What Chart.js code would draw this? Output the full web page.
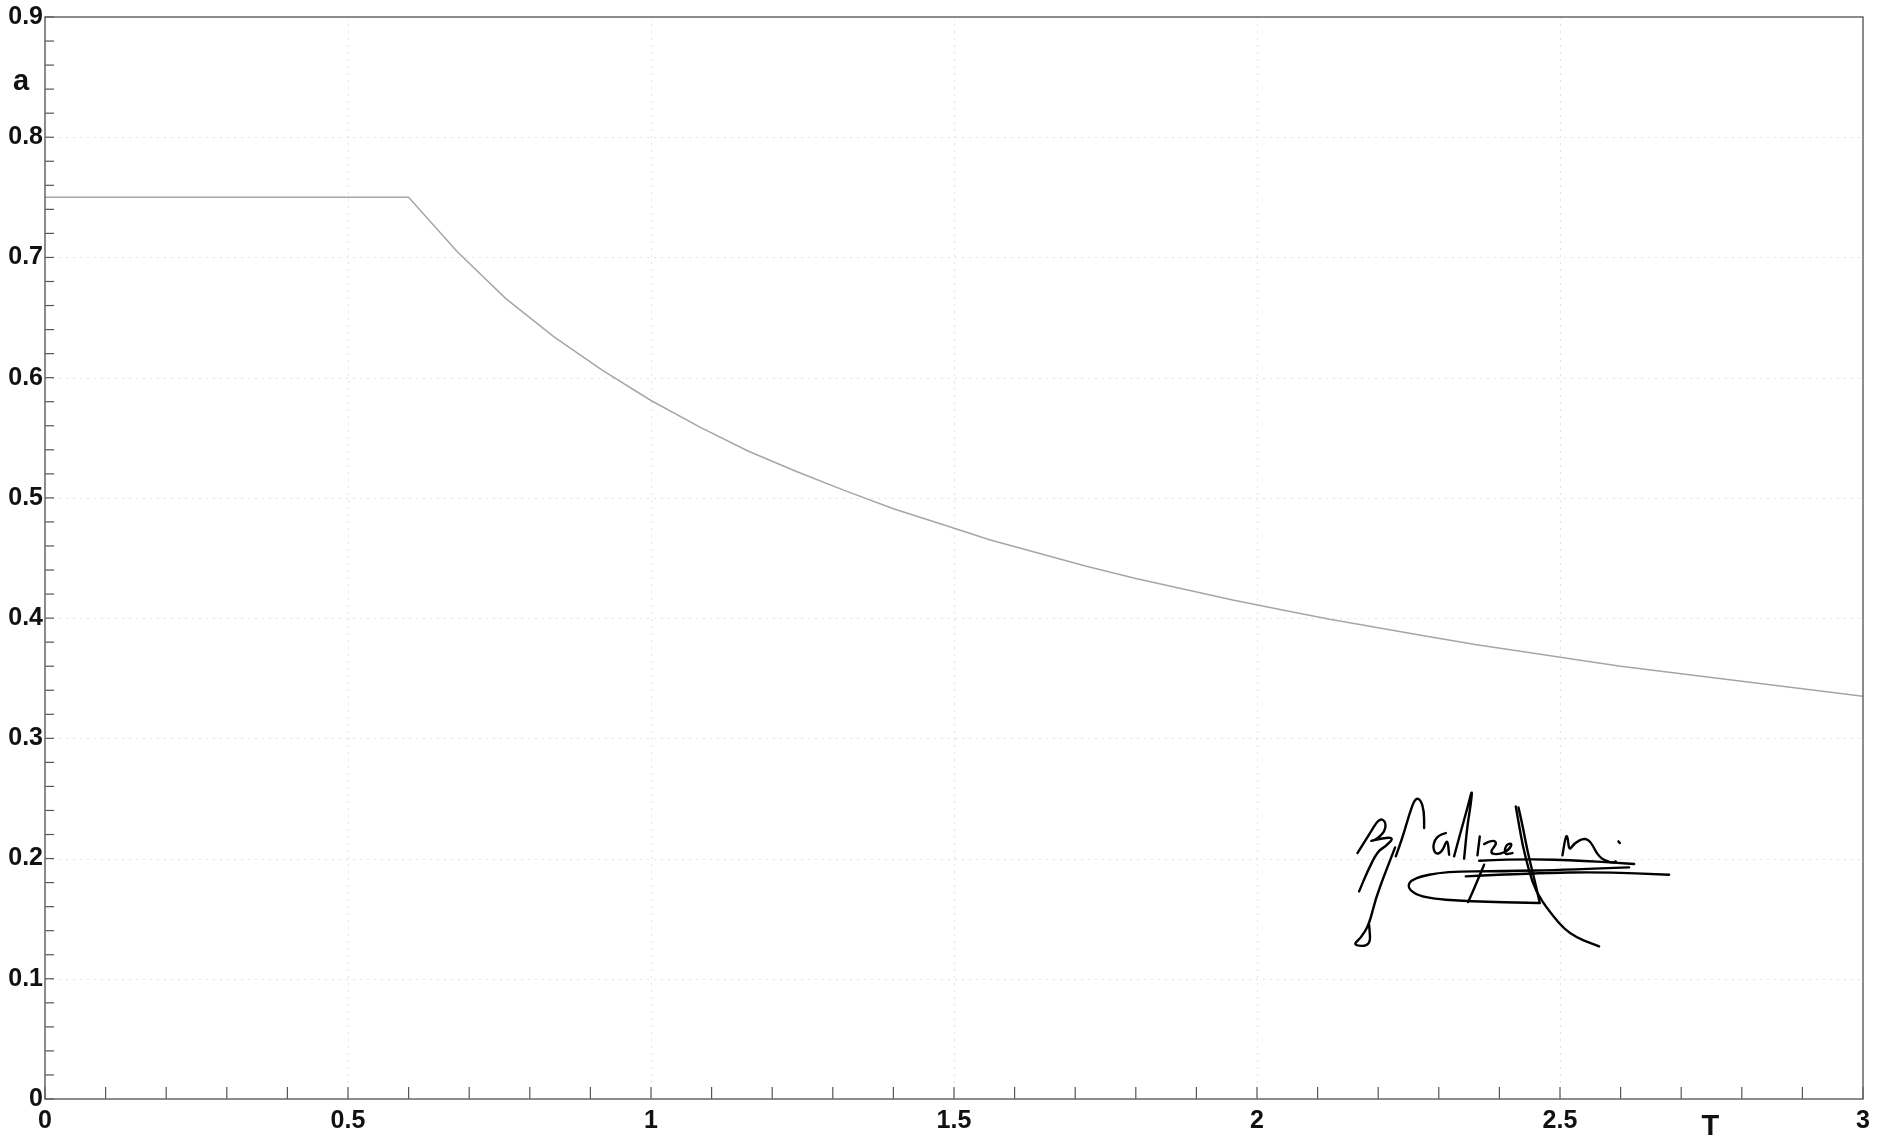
<!DOCTYPE html>
<html>
<head>
<meta charset="utf-8">
<script src="https://cdn.jsdelivr.net/npm/chart.js@4.4.1/dist/chart.umd.min.js"></script>
<style>
  html, body { margin: 0; padding: 0; background: #fff; }
  #wrap { width: 1883px; height: 1140px; }
</style>
</head>
<body>
<div id="wrap"><canvas id="spectrum_chart" width="1883" height="1140"></canvas></div>
<script>
// period T (s) and spectral acceleration a
var periods = [0, 0.6, 0.68, 0.76, 0.84, 0.92, 1.00, 1.08, 1.16, 1.24, 1.32, 1.40, 1.48,
  1.56, 1.64, 1.72, 1.80, 1.88, 1.96, 2.04, 2.12, 2.20, 2.28, 2.36, 2.44, 2.52,
  2.60, 2.68, 2.76, 2.84, 2.92, 3.00];
var accel = [0.75, 0.75, 0.705, 0.666, 0.634, 0.606, 0.581, 0.559, 0.539, 0.522, 0.506, 0.491, 0.478,
  0.465, 0.454, 0.443, 0.433, 0.424, 0.415, 0.407, 0.399, 0.392, 0.385, 0.378, 0.372, 0.366,
  0.360, 0.355, 0.350, 0.345, 0.340, 0.335];

var xMajor = [0, 0.5, 1, 1.5, 2, 2.5, 3];
var yMajor = [0, 0.1, 0.2, 0.3, 0.4, 0.5, 0.6, 0.7, 0.8, 0.9];

// handwritten signature, strokes in local units (1/3 px), anchored at T=2.13, a=0.2725
var signature = [
  [[65,245],[100,190],[130,140],[150,150],[148,180],[120,205],[100,210],[140,200],[175,198],[150,225],[125,240],[95,300],[70,360]],
  [[178,228],[150,300],[120,380],[100,460],[75,500],[50,522],[105,525],[100,460]],
  [[180,255],[200,200],[220,130],[238,80],[255,85],[265,120],[265,170]],
  [[330,185],[305,190],[290,225],[300,250],[320,240],[335,200],[340,250]],
  [[355,255],[375,180],[395,110],[410,50],[405,100],[395,160],[385,262]],
  [[432,195],[425,252]],
  [[445,218],[470,205],[485,215],[460,245],[490,250],[520,235],[530,215],[510,220],[505,250],[530,245]],
  [[540,105],[548,150],[560,220],[580,300],[600,360],[640,420],[700,490],[790,525]],
  [[548,108],[560,160],[575,240],[595,320],[612,395]],
  [[680,252],[688,200],[695,190],[700,240],[715,215],[745,200],[765,210],[790,260],[830,275],[840,270]],
  [[848,210],[852,215]],
  [[390,315],[600,305],[800,302],[1000,310]],
  [[430,268],[560,262],[750,268],[895,278]],
  [[880,288],[700,295],[500,300],[330,300],[230,320],[212,350],[260,380],[400,390],[610,395]],
  [[445,280],[420,340],[397,392]]
];

var points = periods.map(function (t, i) { return { x: t, y: accel[i] }; });

var FONT = '"Liberation Sans", Arial, sans-serif';

function isMajor(v, step) {
  var r = v / step;
  return Math.abs(r - Math.round(r)) < 1e-6;
}

var framePlugin = {
  id: 'frame',
  beforeDatasetsDraw: function (chart) {
    var ctx = chart.ctx, a = chart.chartArea;
    var xs = chart.scales.x, ys = chart.scales.y;
    ctx.save();
    ctx.strokeStyle = '#e2e2e2';
    ctx.lineWidth = 1;
    ctx.setLineDash([2, 5]);
    xMajor.forEach(function (v) {
      if (v <= 0 || v >= 3) return;
      var px = Math.round(xs.getPixelForValue(v)) + 0.5;
      ctx.beginPath(); ctx.moveTo(px, a.top); ctx.lineTo(px, a.bottom); ctx.stroke();
    });
    yMajor.forEach(function (v) {
      if (v <= 0 || v >= 0.9) return;
      var py = Math.round(ys.getPixelForValue(v)) + 0.5;
      ctx.beginPath(); ctx.moveTo(a.left, py); ctx.lineTo(a.right, py); ctx.stroke();
    });
    ctx.restore();
  },
  afterDatasetsDraw: function (chart) {
    var ctx = chart.ctx, a = chart.chartArea;
    var xs = chart.scales.x, ys = chart.scales.y;
    ctx.save();
    // ticks pointing inward
    ctx.strokeStyle = '#555';
    ctx.lineWidth = 1.2;
    xs.ticks.forEach(function (t) {
      var px = xs.getPixelForValue(t.value);
      ctx.beginPath(); ctx.moveTo(px, a.bottom); ctx.lineTo(px, a.bottom - 12); ctx.stroke();
    });
    ys.ticks.forEach(function (t) {
      var py = ys.getPixelForValue(t.value);
      ctx.beginPath(); ctx.moveTo(a.left, py); ctx.lineTo(a.left + 9, py); ctx.stroke();
    });
    // frame
    ctx.strokeStyle = '#666';
    ctx.lineWidth = 1.5;
    ctx.strokeRect(a.left, a.top, a.right - a.left, a.bottom - a.top);

    // axis names
    ctx.fillStyle = '#111';
    ctx.textAlign = 'center';
    ctx.textBaseline = 'middle';
    ctx.font = 'bold 29px ' + FONT;
    ctx.fillText('a', a.left - 24, ys.getPixelForValue(0.846));
    ctx.font = 'bold 29px ' + FONT;
    ctx.fillText('T', xs.getPixelForValue(2.748), a.bottom + 28);

    // signature
    var ox = xs.getPixelForValue(2.13), oy = ys.getPixelForValue(0.2725);
    ctx.strokeStyle = '#000';
    ctx.lineWidth = 2.4;
    ctx.lineJoin = 'round';
    ctx.lineCap = 'round';
    signature.forEach(function (stroke) {
      var pts = stroke.map(function (p) { return [ox + p[0] / 3, oy + p[1] / 3]; });
      ctx.beginPath();
      ctx.moveTo(pts[0][0], pts[0][1]);
      if (pts.length < 3) {
        ctx.lineTo(pts[1][0], pts[1][1]);
      } else {
        for (var i = 1; i < pts.length - 1; i++) {
          var mx = (pts[i][0] + pts[i + 1][0]) / 2, my = (pts[i][1] + pts[i + 1][1]) / 2;
          ctx.quadraticCurveTo(pts[i][0], pts[i][1], mx, my);
        }
        var last = pts[pts.length - 1];
        ctx.lineTo(last[0], last[1]);
      }
      ctx.stroke();
    });
    ctx.restore();
  }
};

var ctx = document.getElementById('spectrum_chart');
var spectrumChart = new Chart(ctx, {
  type: 'scatter',
  data: {
    datasets: [{
      label: 'a(T)',
      data: points,
      showLine: true,
      borderColor: '#a6a6a6',
      borderWidth: 1.5,
      pointRadius: 0,
      tension: 0,
      fill: false
    }]
  },
  options: {
    responsive: false,
    animation: false,
    devicePixelRatio: 1,
    layout: { padding: { top: 17, right: 20, left: 0, bottom: 0 } },
    plugins: {
      legend: { display: false },
      tooltip: { enabled: false },
      title: { display: false }
    },
    scales: {
      x: {
        type: 'linear',
        min: 0,
        max: 3,
        grid: { display: false, drawTicks: false },
        border: { display: false },
        afterFit: function (s) { s.height = 41; },
        ticks: {
          stepSize: 0.1,
          autoSkip: false,
          maxRotation: 0,
          padding: 7,
          color: '#111',
          font: { family: FONT, size: 25, weight: 'bold' },
          callback: function (v) {
            return isMajor(v, 0.5) ? String(Math.round(v * 10) / 10) : '';
          }
        }
      },
      y: {
        type: 'linear',
        min: 0,
        max: 0.9,
        grid: { display: false, drawTicks: false },
        border: { display: false },
        afterFit: function (s) { s.width = 45; },
        ticks: {
          stepSize: 0.02,
          autoSkip: false,
          padding: 2,
          color: '#111',
          font: { family: FONT, size: 25, weight: 'bold' },
          callback: function (v) {
            return isMajor(v, 0.1) ? String(Math.round(v * 10) / 10) : '';
          }
        }
      }
    }
  },
  plugins: [framePlugin]
});
</script>
</body>
</html>
